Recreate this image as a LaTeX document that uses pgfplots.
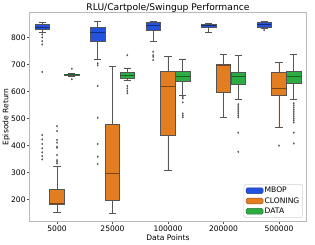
\documentclass[border=0pt]{standalone}
\usepackage{pgfplots}
\pgfplotsset{compat=1.18}
\usepgfplotslibrary{statistics}
\usepackage{fontspec}
\setmainfont{DejaVu Sans}
\definecolor{mblue}{RGB}{35,82,222}
\definecolor{corange}{RGB}{226,125,34}
\definecolor{dgreen}{RGB}{46,172,68}
\definecolor{linegray}{RGB}{85,85,85}
\pgfplotsset{
  mybox/.style={
    solid, draw=linegray, line width=0.7bp, fill=#1,
    mark=diamond*, mark size=0.9bp, mark options={fill=linegray, draw=linegray, solid, line width=0.3bp},
    boxplot/draw direction=y,
    boxplot/every median/.style={draw=#1!55!black, line width=0.9bp},
    boxplot/box extend=0.26,
    boxplot/whisker extend=0.13,
  }
}
\begin{document}
\begin{tikzpicture}
\useasboundingbox (-29.3bp,-23.3bp) rectangle (285.7bp,221.7bp);
\begin{axis}[
  at={(0,0)}, anchor=south west,
  scale only axis, width=277.4bp, height=209.4bp,
  xmin=-0.5, xmax=4.5, ymin=117, ymax=893,
  xtick={0,1,2,3,4}, xticklabels={5000,25000,100000,200000,500000},
  ytick={200,300,400,500,600,700,800},
  tick align=outside, tick pos=left, major tick length=2.7bp,
  every tick/.style={linegray, line width=0.6bp},
  axis line style={gray!55, line width=0.7bp},
  /pgf/number format/assume math mode=true,
  ticklabel style={font=\fontsize{7.6}{9}\selectfont},
  yticklabel style={anchor=east, inner sep=0pt, xshift=-0.8bp},
  xticklabel style={anchor=north, inner sep=0pt, yshift=-1.4bp},
  label style={font=\fontsize{7.6}{9}\selectfont},
  xlabel={Data Points}, ylabel={Episode Return},
  xlabel style={at={(axis description cs:0.5,-0.0745)}, anchor=center},
  ylabel style={at={(axis description cs:-0.083,0.5)}, anchor=center},
  title={RLU/Cartpole/Swingup Performance},
  every axis title shift=0pt,
  title style={at={(0.5,1)}, anchor=base, yshift=1.5bp, font=\fontsize{9.2}{11}\selectfont},
  legend style={at={(1,0)}, anchor=south east, xshift=-3.9bp, yshift=3.9bp,
    draw=gray!35, rounded corners=1.5bp, font=\fontsize{7.6}{9}\selectfont,
    inner xsep=2bp, inner ysep=1.5bp, row sep=0.6bp,
    nodes={inner sep=1.3bp}},
  legend cell align=left,
]
% ---- 5000
\addplot[forget plot, mybox=mblue, boxplot prepared={draw position=-0.267,
  lower whisker=818, lower quartile=831, median=838, upper quartile=848, upper whisker=855}]
  table[row sep=\\, y index=0]{y\\811\\800\\786\\774\\672\\438\\422\\405\\389\\374\\360\\348\\};
\addplot[forget plot, mybox=corange, boxplot prepared={draw position=0,
  lower whisker=152, lower quartile=182, median=185, upper quartile=238, upper whisker=321}]
  table[row sep=\\, y index=0]{y\\471\\453\\420\\410\\395\\391\\364\\345\\339\\333\\};
\addplot[forget plot, mybox=dgreen, boxplot prepared={draw position=0.267,
  lower whisker=656, lower quartile=659, median=661, upper quartile=663, upper whisker=666}]
  table[row sep=\\, y index=0]{y\\684\\645\\};
% ---- 25000
\addplot[forget plot, mybox=mblue, boxplot prepared={draw position=0.733,
  lower whisker=719, lower quartile=786, median=818, upper quartile=839, upper whisker=858}]
  table[row sep=\\, y index=0]{y\\704\\697\\620\\502\\405\\358\\331\\};
\addplot[forget plot, mybox=corange, boxplot prepared={draw position=1,
  lower whisker=148, lower quartile=196, median=295, upper quartile=479, upper whisker=691}]
  coordinates {};
\addplot[forget plot, mybox=dgreen, boxplot prepared={draw position=1.267,
  lower whisker=639, lower quartile=648, median=658, upper quartile=669, upper whisker=687}]
  table[row sep=\\, y index=0]{y\\734\\620\\611\\602\\593\\};
% ---- 100000
\addplot[forget plot, mybox=mblue, boxplot prepared={draw position=1.733,
  lower whisker=784, lower quartile=825, median=846, upper quartile=856, upper whisker=859}]
  table[row sep=\\, y index=0]{y\\747\\734\\728\\716\\};
\addplot[forget plot, mybox=corange, boxplot prepared={draw position=2,
  lower whisker=306, lower quartile=438, median=617, upper quartile=675, upper whisker=728}]
  coordinates {};
\addplot[forget plot, mybox=dgreen, boxplot prepared={draw position=2.267,
  lower whisker=586, lower quartile=638, median=657, upper quartile=673, upper whisker=720}]
  table[row sep=\\, y index=0]{y\\580\\574\\559\\518\\511\\504\\};
% ---- 200000
\addplot[forget plot, mybox=mblue, boxplot prepared={draw position=2.733,
  lower whisker=818, lower quartile=836, median=843, upper quartile=849, upper whisker=852}]
  coordinates {};
\addplot[forget plot, mybox=corange, boxplot prepared={draw position=3,
  lower whisker=502, lower quartile=596, median=695, upper quartile=700, upper whisker=738}]
  coordinates {};
\addplot[forget plot, mybox=dgreen, boxplot prepared={draw position=3.267,
  lower whisker=570, lower quartile=626, median=654, upper quartile=670, upper whisker=734}]
  table[row sep=\\, y index=0]{y\\552\\545\\538\\531\\524\\517\\510\\504\\447\\376\\};
% ---- 500000
\addplot[forget plot, mybox=mblue, boxplot prepared={draw position=3.733,
  lower whisker=833, lower quartile=839, median=848, upper quartile=854, upper whisker=858}]
  table[row sep=\\, y index=0]{y\\827\\};
\addplot[forget plot, mybox=corange, boxplot prepared={draw position=4,
  lower whisker=467, lower quartile=584, median=611, upper quartile=670, upper whisker=707}]
  table[row sep=\\, y index=0]{y\\399\\};
\addplot[forget plot, mybox=dgreen, boxplot prepared={draw position=4.267,
  lower whisker=570, lower quartile=630, median=657, upper quartile=673, upper whisker=738}]
  table[row sep=\\, y index=0]{y\\556\\548\\540\\532\\524\\516\\508\\500\\493\\485\\447\\407\\};
% legend
\addlegendimage{area legend, fill=mblue, draw=mblue!70!black, line width=0.5bp}
\addlegendentry{MBOP}
\addlegendimage{area legend, fill=corange, draw=corange!70!black, line width=0.5bp}
\addlegendentry{CLONING}
\addlegendimage{area legend, fill=dgreen, draw=dgreen!70!black, line width=0.5bp}
\addlegendentry{DATA}
\end{axis}
\end{tikzpicture}
\end{document}
